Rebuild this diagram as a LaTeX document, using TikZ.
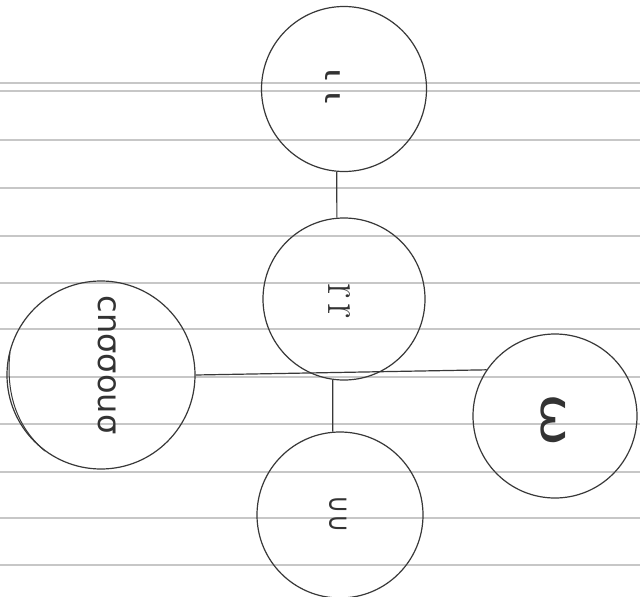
\documentclass[tikz,border=0pt]{standalone}
\usepackage{fontspec}
\usepackage{graphicx}
\newfontfamily\glyphfont{DejaVu Sans}
\begin{document}
\begin{tikzpicture}[x=1pt,y=-1pt,
  rule/.style={draw=black!22, line width=1.1pt},
  ring/.style={circle, draw=black!78, line width=1.2pt, inner sep=0pt},
  link/.style={draw=black!78, line width=1.2pt},
  script/.style={text=black!80, inner sep=0pt, rotate=-90}]
\useasboundingbox (0,0) rectangle (640,597);
\fill[white] (0,0) rectangle (640,597);
\foreach \yy in {83,91,140,188,236,283,329,377,424,472,518,565}
  \draw[rule] (0,\yy) -- (640,\yy);
% circles
\node[ring, minimum size=165pt] (top) at (344,89) {};
\node[ring, minimum size=162pt] (mid) at (344,299) {};
\node[ring, minimum size=166pt] (bot) at (340,515) {};
\node[ring, minimum size=188pt] (left) at (101,375) {};
\node[ring, minimum size=164pt] (right) at (555,416) {};
% second pencil stroke on the left circle
\draw[link, line width=1pt] (10,352) .. controls (5,398) and (20,430) .. (45,451);
% connectors
\draw[link] (top.265) -- (mid.95);
\draw[link] (mid.262) -- (bot.95);
\draw[link] (left.0) -- (right.146);
% texts (written sideways, as on the sheet)
\node[script, font=\glyphfont\fontsize{27}{27}\selectfont] (toptext) at (333,86) {\scalebox{1.4}[1]{ι}\kern10pt\scalebox{1.4}[1]{ι}};
\node[script, font=\fontsize{50}{50}\selectfont] (midtext) at (339,301) {\scalebox{0.85}[1]{r}\kern4pt\scalebox{0.85}[1]{r}};
\node[script, font=\glyphfont\fontsize{25}{25}\selectfont] (bottext) at (338,514) {\scalebox{1}[1.2]{∪}\scalebox{1}[1.2]{∪}};
\node[script, font=\glyphfont\fontsize{40}{40}\selectfont] (righttext) at (553,420) {\scalebox{1.6}[1.1]{ω}};
\node[script, font=\glyphfont\fontsize{32}{32}\selectfont] (lefttext) at (107,365) {cnσσouσ};
\end{tikzpicture}
\end{document}
